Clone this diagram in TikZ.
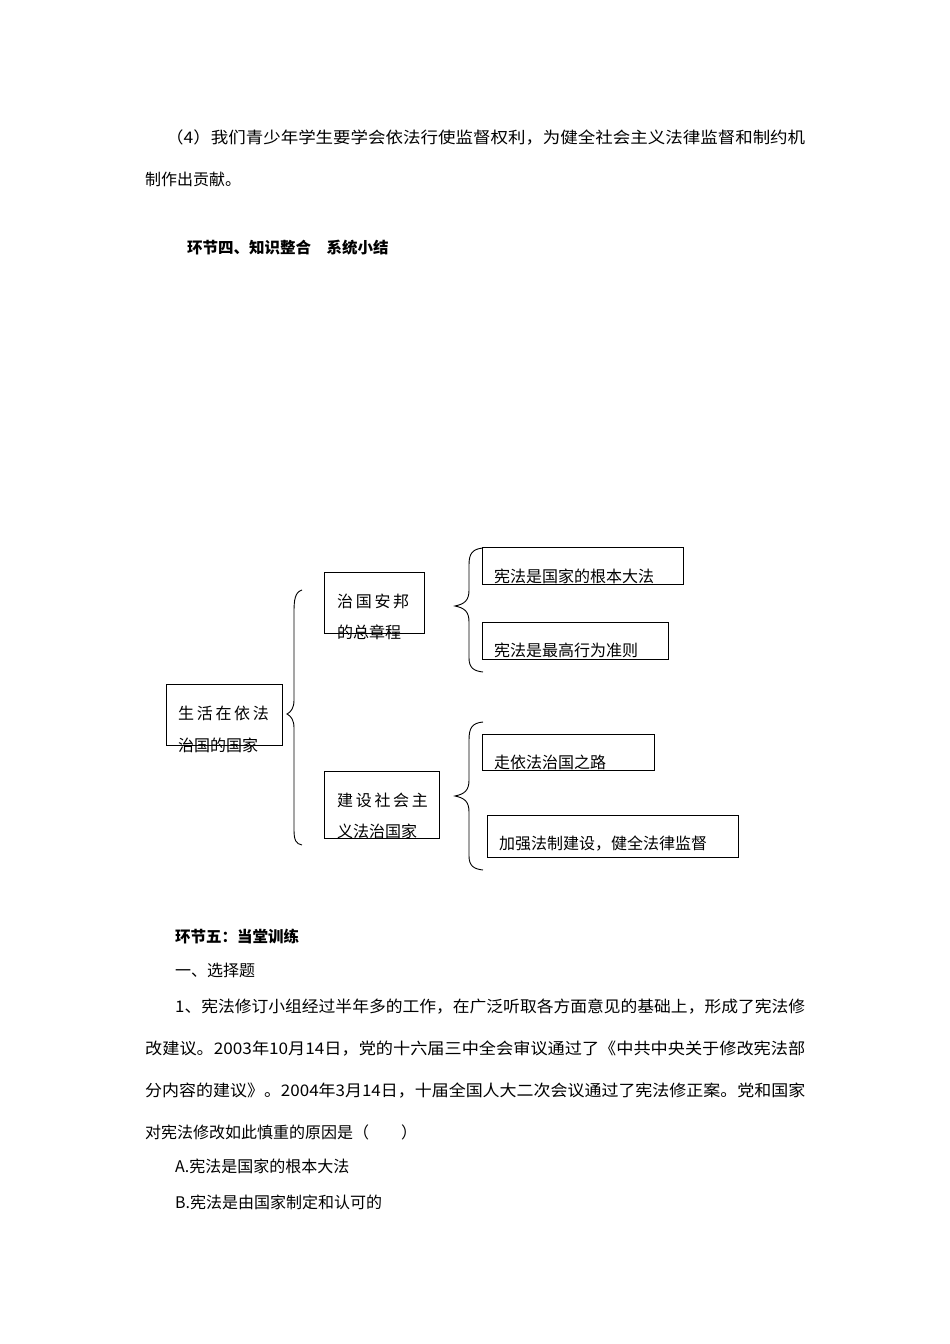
\documentclass[tikz,border=0pt]{standalone}
\usepackage{fontspec}
\usepackage{graphicx}
\newfontfamily\cjk{Noto Sans CJK SC}
\begin{document}
\begin{tikzpicture}[x=1pt,y=-1pt,
  t/.style={anchor=base west,inner sep=0pt,font=\cjk\fontsize{16}{18}\selectfont},
  b/.style={t,font=\cjk\bfseries\fontsize{15.5}{18}\selectfont},
  bx/.style={draw,line width=0.9pt},
  br/.style={line width=0.9pt}]
\useasboundingbox[fill=white] (0,0) rectangle (950,1344);
% text body
\node[t] (p1) at (166,143) {\resizebox{639pt}{\height}{（4）我们青少年学生要学会依法行使监督权利，为健全社会主义法律监督和制约机}};
\node[t] (p2) at (145,185) {制作出贡献。};
\node[b] (h4) at (187,253) {环节四、知识整合\quad 系统小结};
\node[b] (h5) at (175,942) {环节五：当堂训练};
\node[t] (q0) at (175,976) {一、选择题};
\node[t] (q1) at (175,1012) {\resizebox{630pt}{\height}{1、宪法修订小组经过半年多的工作，在广泛听取各方面意见的基础上，形成了宪法修}};
\node[t] (q2) at (145,1054) {\resizebox{660pt}{\height}{改建议。2003年10月14日，党的十六届三中全会审议通过了《中共中央关于修改宪法部}};
\node[t] (q3) at (145,1096) {\resizebox{660pt}{\height}{分内容的建议》。2004年3月14日，十届全国人大二次会议通过了宪法修正案。党和国家}};
\node[t] (q4) at (145,1138) {对宪法修改如此慎重的原因是（\quad\quad）};
\node[t] (qa) at (175,1172) {A.宪法是国家的根本大法};
\node[t] (qb) at (175,1208) {B.宪法是由国家制定和认可的};
% boxes
\draw[bx] (166,684) rectangle (282,745);
\draw[bx] (324,572) rectangle (424,633);
\draw[bx] (324,771) rectangle (439,838);
\draw[bx] (482,547) rectangle (683,584);
\draw[bx] (482,622) rectangle (668,659);
\draw[bx] (482,734) rectangle (654,770);
\draw[bx] (487,815) rectangle (738,857);
% box texts
\node[t] (m1) at (178,719) {生\,活\,在\,依\,法};
\node[t] (m2) at (178,751) {治国的国家};
\node[t] (a1) at (337,607) {治\,国\,安\,邦};
\node[t] (a2) at (337,638) {的总章程};
\node[t] (b1) at (337,806) {建\,设\,社\,会\,主};
\node[t] (b2) at (337,837) {义法治国家};
\node[t] (c1) at (494,582) {宪法是国家的根本大法};
\node[t] (c2) at (494,656) {宪法是最高行为准则};
\node[t] (c3) at (494,768) {走依法治国之路};
\node[t] (c4) at (499,849) {加强法制建设，健全法律监督};
% braces
\draw[br] (302,590) .. controls (295,592) and (294,600) .. (294,612) -- (294,700)
  .. controls (294,708) and (291,712) .. (287,714)
  .. controls (291,716) and (294,720) .. (294,728) -- (294,830)
  .. controls (294,840) and (296,844) .. (302,845);
\draw[br] (483,548) .. controls (472,549) and (469,554) .. (469,565) -- (469,590)
  .. controls (469,600) and (465,604) .. (455,606)
  .. controls (465,608) and (469,612) .. (469,622) -- (469,658)
  .. controls (469,668) and (474,671) .. (483,672);
\draw[br] (483,722) .. controls (472,723) and (469,728) .. (469,740) -- (469,780)
  .. controls (469,790) and (465,794) .. (455,796)
  .. controls (465,798) and (469,802) .. (469,812) -- (469,856)
  .. controls (469,866) and (474,869) .. (483,870);
\end{tikzpicture}
\end{document}
